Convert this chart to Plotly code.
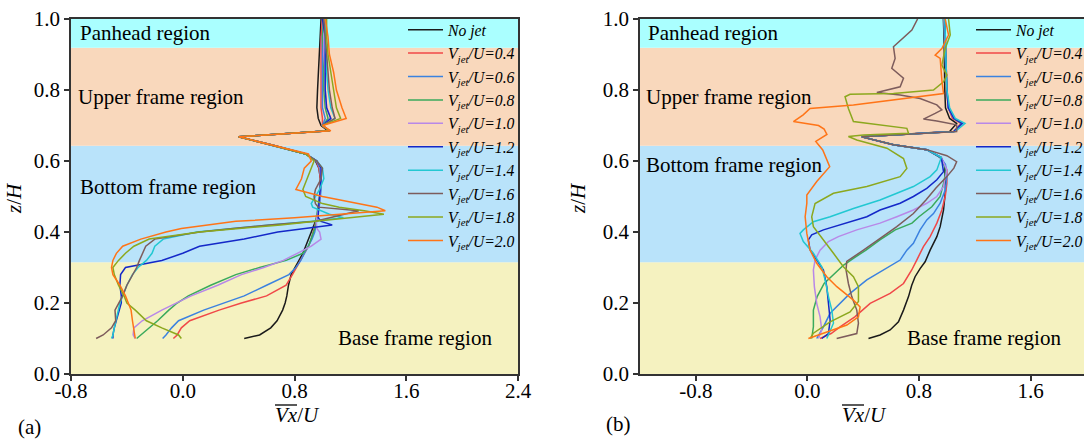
import plotly.graph_objects as go

# ---------------- data ----------------
SERIES_NAMES = ["No jet", "0.4", "0.6", "0.8", "1.0", "1.2", "1.4", "1.6", "1.8", "2.0"]
COLORS = ["#1a1a1a", "#f04848", "#3b82e0", "#3aaa5c", "#b888e8",
          "#1428c8", "#22c8d2", "#7d5c5c", "#8ca81e", "#ff7417"]

REGION_BOUNDS = [0.0, 0.315, 0.643, 0.919, 1.0]
REGION_COLORS = ["#f5f2c0", "#b9e3fa", "#f9d8bc", "#aaffff"]

# panel (a): common z/H grid
ZA = [0.10, 0.11, 0.13, 0.15, 0.18, 0.20, 0.22, 0.25, 0.28, 0.30,
      0.32, 0.34, 0.36, 0.38, 0.40, 0.41, 0.42, 0.43, 0.44, 0.45,
      0.46, 0.47, 0.48, 0.50, 0.52, 0.55, 0.58, 0.60, 0.62, 0.645,
      0.668, 0.685, 0.70, 0.72, 0.75, 0.80, 0.85, 0.90, 0.95, 1.00]

XA_NOJET = [0.44, 0.55, 0.63, 0.675, 0.715, 0.733, 0.745, 0.757, 0.776, 0.805,
            0.835, 0.86, 0.88, 0.90, 0.925, 0.935, 0.945, 0.955, 0.96, 0.965,
            0.97, 0.975, 0.978, 0.98, 0.985, 0.985, 0.975, 0.95, 0.88, 0.64,
            0.40, 1.04, 0.99, 0.97, 0.96, 0.965, 0.97, 0.975, 0.98, 0.99]
XA_04 = [-0.067, -0.04, -0.01, 0.05, 0.26, 0.42, 0.60, 0.74, 0.785, 0.815,
         0.845, 0.875, 0.90, 0.92, 0.935, 0.943, 0.95, 0.957, 0.963, 0.968,
         0.972, 0.975, 0.978, 0.982, 0.985, 0.985, 0.975, 0.955, 0.88, 0.64,
         0.40, 1.05, 1.0, 1.0, 0.99, 0.99, 0.99, 0.99, 0.99, 1.0]
XA_06 = [-0.144, -0.12, -0.08, -0.03, 0.15, 0.30, 0.44, 0.60, 0.76, 0.81,
         0.845, 0.87, 0.90, 0.925, 0.945, 0.95, 0.955, 0.96, 0.965, 0.97,
         0.975, 0.978, 0.98, 0.985, 0.99, 0.99, 0.98, 0.96, 0.88, 0.64,
         0.40, 1.05, 1.0, 1.02, 1.0, 1.0, 1.0, 1.0, 1.0, 1.01]
XA_08 = [-0.33, -0.30, -0.24, -0.18, -0.10, -0.04, 0.04, 0.20, 0.38, 0.55,
         0.74, 0.86, 0.90, 0.92, 0.94, 0.945, 0.95, 0.95, 0.955, 0.96,
         0.965, 0.97, 0.975, 0.98, 0.985, 0.99, 0.985, 0.96, 0.88, 0.64,
         0.40, 1.05, 1.0, 1.04, 1.02, 1.01, 1.01, 1.01, 1.0, 1.01]
XA_10 = [-0.34, -0.355, -0.35, -0.29, -0.15, -0.04, 0.06, 0.25, 0.42, 0.58,
         0.72, 0.82, 0.92, 0.99, 0.98, 0.96, 0.955, 0.955, 0.96, 0.965,
         0.97, 0.975, 0.978, 0.982, 0.985, 0.99, 0.985, 0.96, 0.88, 0.64,
         0.40, 1.05, 1.0, 1.06, 1.03, 1.02, 1.02, 1.01, 1.01, 1.02]
XA_12 = [-0.50, -0.50, -0.49, -0.475, -0.45, -0.44, -0.44, -0.45, -0.445, -0.41,
         -0.15, 0.0, 0.12, 0.44, 0.68, 0.87, 1.07, 0.99, 0.97, 0.97,
         0.97, 0.972, 0.975, 0.98, 0.985, 0.99, 0.99, 0.96, 0.88, 0.64,
         0.40, 1.05, 1.0, 1.06, 1.03, 1.02, 1.02, 1.02, 1.02, 1.0]
XA_14 = [-0.51, -0.50, -0.49, -0.48, -0.465, -0.45, -0.43, -0.40, -0.36, -0.32,
         -0.26, -0.22, -0.20, -0.14, 0.10, 0.34, 0.62, 0.93, 1.15, 1.05,
         0.99, 0.93, 0.92, 0.95, 0.98, 1.01, 1.0, 0.96, 0.88, 0.64,
         0.40, 1.05, 1.0, 1.09, 1.06, 1.04, 1.03, 1.03, 1.02, 1.02]
XA_16 = [-0.62, -0.57, -0.51, -0.48, -0.485, -0.46, -0.43, -0.40, -0.36, -0.33,
         -0.31, -0.29, -0.265, -0.20, 0.12, 0.36, 0.62, 0.95, 1.05, 1.16,
         1.26, 0.97, 0.95, 0.94, 0.95, 0.99, 1.0, 0.96, 0.88, 0.64,
         0.40, 1.05, 1.0, 1.09, 1.07, 1.05, 1.04, 1.03, 1.02, 1.01]
XA_18 = [-0.01, -0.03, -0.15, -0.26, -0.34, -0.40, -0.42, -0.46, -0.49, -0.50,
         -0.46, -0.41, -0.35, -0.24, 0.12, 0.42, 0.70, 0.95, 1.20, 1.44,
         1.30, 1.12, 1.0, 0.88, 0.86, 0.89, 0.92, 0.94, 0.88, 0.64,
         0.40, 1.05, 1.0, 1.13, 1.10, 1.08, 1.06, 1.04, 1.03, 1.03]
XA_20 = [-0.34, -0.345, -0.355, -0.36, -0.37, -0.39, -0.41, -0.45, -0.50, -0.51,
         -0.50, -0.475, -0.43, -0.30, -0.12, -0.01, 0.18, 0.38, 0.80, 1.12,
         1.45, 1.39, 1.26, 1.0, 0.81, 0.85, 0.87, 0.92, 0.90, 0.64,
         0.40, 1.06, 1.0, 1.17, 1.14, 1.10, 1.08, 1.05, 1.04, 1.02]

# panel (b): each profile with its own z/H samples
ZB_NOJET = [0.10, 0.11, 0.124, 0.147, 0.18, 0.218, 0.25, 0.274, 0.297, 0.316, 0.349, 0.387, 0.415,
            0.462, 0.518, 0.556, 0.59, 0.61, 0.632, 0.646, 0.668, 0.683, 0.706, 0.72, 0.75,
            0.80, 0.87, 0.94, 1.0]
XB_NOJET = [0.438, 0.521, 0.593, 0.653, 0.689, 0.725, 0.748, 0.772, 0.808, 0.844, 0.88, 0.928, 0.952,
            0.976, 0.99, 0.99, 0.985, 0.95, 0.856, 0.617, 0.39, 1.02, 1.07, 1.02, 0.99,
            0.985, 0.985, 0.98, 0.975]
ZB_04 = [0.10, 0.114, 0.133, 0.161, 0.199, 0.227, 0.255, 0.293, 0.321, 0.359, 0.387, 0.425, 0.462,
         0.50, 0.537, 0.575, 0.61, 0.632, 0.646, 0.668, 0.683, 0.706, 0.72, 0.75, 0.80, 0.87, 0.94, 1.0]
XB_04 = [0.091, 0.17, 0.234, 0.34, 0.45, 0.593, 0.689, 0.748, 0.784, 0.832, 0.88, 0.928, 0.964,
         0.988, 1.0, 1.0, 0.96, 0.856, 0.617, 0.39, 1.05, 1.10, 1.04, 1.01, 1.0, 0.995, 0.99, 0.985]
ZB_06 = [0.10, 0.133, 0.171, 0.199, 0.227, 0.265, 0.293, 0.321, 0.349, 0.368, 0.406, 0.434, 0.452,
         0.481, 0.518, 0.556, 0.59, 0.61, 0.632, 0.646, 0.668, 0.683, 0.706, 0.72, 0.75, 0.80,
         0.87, 0.94, 1.0]
XB_06 = [0.067, 0.115, 0.163, 0.234, 0.306, 0.426, 0.545, 0.665, 0.713, 0.76, 0.808, 0.856, 0.904,
         0.952, 0.988, 1.0, 0.99, 0.955, 0.856, 0.617, 0.39, 1.05, 1.11, 1.05, 1.01, 1.0,
         0.99, 0.985, 0.98]
ZB_08 = [0.10, 0.133, 0.18, 0.218, 0.255, 0.284, 0.307, 0.326, 0.349, 0.378, 0.406, 0.425, 0.443,
         0.471, 0.50, 0.537, 0.575, 0.61, 0.632, 0.646, 0.668, 0.683, 0.706, 0.72, 0.75, 0.80,
         0.87, 0.94, 1.0]
XB_08 = [0.031, 0.043, 0.043, 0.07, 0.12, 0.20, 0.26, 0.33, 0.42, 0.52, 0.63, 0.75, 0.80,
         0.892, 0.952, 0.976, 0.995, 0.955, 0.856, 0.617, 0.39, 1.05, 1.11, 1.05, 1.01, 1.0,
         0.99, 0.985, 0.98]
ZB_10 = [0.10, 0.124, 0.161, 0.199, 0.246, 0.293, 0.321, 0.349, 0.373, 0.387, 0.406, 0.425, 0.443,
         0.462, 0.481, 0.50, 0.528, 0.575, 0.61, 0.632, 0.646, 0.668, 0.683, 0.706, 0.72, 0.75,
         0.80, 0.87, 0.94, 1.0]
XB_10 = [0.079, 0.103, 0.091, 0.067, 0.05, 0.043, 0.055, 0.091, 0.151, 0.222, 0.354, 0.521, 0.641,
         0.76, 0.856, 0.928, 0.976, 1.0, 0.96, 0.856, 0.617, 0.39, 1.05, 1.12, 1.05, 1.01,
         1.0, 0.99, 0.985, 0.98]
ZB_12 = [0.10, 0.114, 0.152, 0.199, 0.246, 0.293, 0.321, 0.35, 0.378, 0.392, 0.406, 0.425, 0.443,
         0.462, 0.481, 0.50, 0.523, 0.547, 0.57, 0.61, 0.632, 0.646, 0.668, 0.683, 0.706, 0.72,
         0.75, 0.80, 0.87, 0.94, 1.0]
XB_12 = [0.103, 0.151, 0.163, 0.151, 0.139, 0.115, 0.067, 0.019, 0.007, 0.031, 0.115, 0.282, 0.426,
         0.521, 0.665, 0.76, 0.856, 0.928, 0.976, 0.96, 0.856, 0.617, 0.39, 1.05, 1.11, 1.05,
         1.01, 1.0, 0.995, 0.99, 0.985]
ZB_14 = [0.10, 0.143, 0.18, 0.218, 0.265, 0.302, 0.34, 0.373, 0.396, 0.406, 0.429, 0.443, 0.466,
         0.49, 0.509, 0.528, 0.556, 0.575, 0.61, 0.632, 0.646, 0.668, 0.683, 0.706, 0.72, 0.75,
         0.80, 0.87, 0.94, 1.0]
XB_14 = [0.139, 0.187, 0.175, 0.151, 0.127, 0.103, 0.043, -0.029, -0.053, -0.029, 0.043, 0.163, 0.33,
         0.521, 0.641, 0.76, 0.88, 0.928, 0.96, 0.856, 0.617, 0.39, 1.06, 1.13, 1.06, 1.02,
         1.0, 0.995, 0.99, 0.985]
ZB_16 = [0.10, 0.114, 0.143, 0.18, 0.218, 0.255, 0.293, 0.317, 0.349, 0.382, 0.415, 0.452, 0.49,
         0.523, 0.556, 0.58, 0.598, 0.615, 0.632, 0.646, 0.668, 0.683, 0.702, 0.713, 0.718, 0.734,
         0.744, 0.758, 0.776, 0.786, 0.793, 0.809, 0.833, 0.861, 0.889, 0.922, 0.94, 0.969, 1.0]
XB_16 = [0.21, 0.354, 0.366, 0.354, 0.318, 0.294, 0.277, 0.282, 0.402, 0.521, 0.641, 0.76, 0.85,
         0.92, 1.0, 1.05, 1.07, 1.0, 0.856, 0.617, 0.39, 1.07, 1.07, 0.928, 0.832, 0.916,
         0.964, 0.928, 0.808, 0.665, 0.498, 0.665, 0.689, 0.605, 0.629, 0.617, 0.665, 0.749, 0.79]
ZB_18 = [0.10, 0.115, 0.147, 0.175, 0.204, 0.246, 0.274, 0.302, 0.34, 0.378, 0.415, 0.443, 0.48,
         0.509, 0.528, 0.556, 0.579, 0.607, 0.636, 0.659, 0.669, 0.673, 0.678, 0.692, 0.711, 0.748,
         0.781, 0.788, 0.79, 0.80, 0.823, 0.842, 0.87, 0.917, 0.955, 1.0]
XB_18 = [0.02, 0.043, 0.163, 0.306, 0.366, 0.366, 0.33, 0.258, 0.187, 0.115, 0.043, 0.031, 0.055,
         0.187, 0.426, 0.665, 0.713, 0.689, 0.57, 0.354, 0.294, 0.402, 0.725, 0.713, 0.33, 0.294,
         0.27, 0.306, 0.617, 0.904, 0.976, 1.0, 0.964, 0.988, 1.024, 1.012]
ZB_20 = [0.10, 0.119, 0.138, 0.161, 0.189, 0.208, 0.246, 0.274, 0.312, 0.349, 0.396, 0.443, 0.481,
         0.504, 0.542, 0.584, 0.631, 0.655, 0.675, 0.69, 0.70, 0.711, 0.73, 0.748, 0.758, 0.79,
         0.828, 0.889, 0.898, 0.917, 0.955, 1.0]
XB_20 = [0.007, 0.139, 0.283, 0.366, 0.378, 0.33, 0.211, 0.139, 0.067, 0.019, -0.004, -0.016, -0.004,
         -0.004, 0.067, 0.16, 0.11, 0.06, 0.14, 0.12, 0.08, -0.10, -0.03, 0.019, 0.33, 0.976,
         0.964, 0.952, 0.916, 0.964, 1.012, 0.988]

XA_TICKS = [-0.8, 0.0, 0.8, 1.6, 2.4]
XB_TICKS = [-0.8, 0.0, 0.8, 1.6]
Y_TICKS = [0.0, 0.2, 0.4, 0.6, 0.8, 1.0]

SERIES_A = [XA_NOJET, XA_04, XA_06, XA_08, XA_10, XA_12, XA_14, XA_16, XA_18, XA_20]
SERIES_B = [(ZB_NOJET, XB_NOJET), (ZB_04, XB_04), (ZB_06, XB_06), (ZB_08, XB_08), (ZB_10, XB_10),
            (ZB_12, XB_12), (ZB_14, XB_14), (ZB_16, XB_16), (ZB_18, XB_18), (ZB_20, XB_20)]

# ---------------- layout helpers ----------------
W, H = 1084, 441
ML, MR, MT, MB = 71, 0, 19, 67
PW, PH = W - ML - MR, H - MT - MB
FONT = "Liberation Serif"


def pxx(px):
    return (px - ML) / PW


def pxy(py):
    return (H - MB - py) / PH


def legend_name(n):
    if n == "No jet":
        return "<i>No jet</i>"
    return "<i>V<sub>jet</sub>/U=" + n + "</i>"


fig = go.Figure()

for i, xs in enumerate(SERIES_A):
    fig.add_trace(go.Scatter(x=xs, y=ZA, mode="lines", name=legend_name(SERIES_NAMES[i]),
                             line=dict(color=COLORS[i], width=1.5),
                             xaxis="x", yaxis="y", legend="legend"))
for i, (zs, xs) in enumerate(SERIES_B):
    fig.add_trace(go.Scatter(x=xs, y=zs, mode="lines", name=legend_name(SERIES_NAMES[i]),
                             line=dict(color=COLORS[i], width=1.5),
                             xaxis="x2", yaxis="y2", legend="legend2"))

shapes = []
for xr, yr in (("x domain", "y"), ("x2 domain", "y2")):
    for k in range(4):
        shapes.append(dict(type="rect", xref=xr, yref=yr, x0=0, x1=1,
                           y0=REGION_BOUNDS[k], y1=REGION_BOUNDS[k + 1],
                           fillcolor=REGION_COLORS[k], line=dict(width=0), layer="below"))
# overline of the Vx symbol in the axis titles
for x0, x1, yy in ((275, 297, 405), (842, 864, 405)):
    shapes.append(dict(type="line", xref="paper", yref="paper", x0=pxx(x0), x1=pxx(x1),
                       y0=pxy(yy), y1=pxy(yy), line=dict(color="black", width=1.3)))

ann = []


def add_text(text, x, y, xref, yref, size=21, xanchor="left", textangle=0):
    ann.append(dict(text=text, x=x, y=y, xref=xref, yref=yref, showarrow=False,
                    xanchor=xanchor, yanchor="middle", textangle=textangle,
                    font=dict(family=FONT, size=size, color="black")))


add_text("Panhead region", -0.75, 0.96, "x", "y")
add_text("Upper frame region", -0.765, 0.78, "x", "y")
add_text("Bottom frame region", -0.75, 0.527, "x", "y")
add_text("Base frame region", 1.097, 0.101, "x", "y")
add_text("Panhead region", -1.157, 0.96, "x2", "y2")
add_text("Upper frame region", -1.17, 0.78, "x2", "y2")
add_text("Bottom frame region", -1.17, 0.589, "x2", "y2")
add_text("Base frame region", 0.70, 0.101, "x2", "y2")
add_text("<i>Vx</i>/<i>U</i>", pxx(297.5), pxy(415), "paper", "paper", xanchor="center")
add_text("<i>Vx</i>/<i>U</i>", pxx(864.5), pxy(415), "paper", "paper", xanchor="center")
add_text("<i>z</i>/<i>H</i>", pxx(14), pxy(198), "paper", "paper", xanchor="center", textangle=-90)
add_text("<i>z</i>/<i>H</i>", pxx(578), pxy(198), "paper", "paper", xanchor="center", textangle=-90)
add_text("(a)", pxx(29), pxy(427), "paper", "paper", xanchor="center")
add_text("(b)", pxx(618), pxy(424), "paper", "paper", xanchor="center")

axis_common = dict(showgrid=False, zeroline=False, showline=True, linecolor="#333333",
                   linewidth=1.5, mirror=True, ticks="outside", ticklen=5, tickwidth=1.5,
                   tickcolor="#333333", tickfont=dict(family=FONT, size=21, color="black"))


def fmt(v):
    return "%.1f" % v


legend_common = dict(xref="container", yref="container", xanchor="left", yanchor="top",
                     bgcolor="rgba(0,0,0,0)", borderwidth=0, itemwidth=35, tracegroupgap=0,
                     maxheight=400, font=dict(family=FONT, size=15.7, color="black"))

fig.update_layout(
    width=W, height=H,
    margin=dict(l=ML, r=MR, t=MT, b=MB, autoexpand=False),
    paper_bgcolor="white", plot_bgcolor="white",
    showlegend=True,
    xaxis=dict(domain=[0, pxx(518)], range=[-0.8, 2.4], anchor="y", ticklabelstandoff=-8,
               tickvals=XA_TICKS, ticktext=[fmt(v) for v in XA_TICKS], **axis_common),
    yaxis=dict(domain=[0, 1], range=[0, 1], anchor="x",
               tickvals=Y_TICKS, ticktext=[fmt(v) for v in Y_TICKS], **axis_common),
    xaxis2=dict(domain=[pxx(640), 1], range=[-1.2, 1.983], anchor="y2", ticklabelstandoff=-8,
                tickvals=XB_TICKS, ticktext=[fmt(v) for v in XB_TICKS], **axis_common),
    yaxis2=dict(domain=[0, 1], range=[0, 1], anchor="x2",
                tickvals=Y_TICKS, ticktext=[fmt(v) for v in Y_TICKS], **axis_common),
    legend=dict(x=403 / W, y=1 - 13 / H, **legend_common),
    legend2=dict(x=971 / W, y=1 - 13 / H, **legend_common),
    shapes=shapes,
    annotations=ann,
)

fig.write_html("out.html", config={"displayModeBar": False},
               post_script="document.body.style.margin='0';")
